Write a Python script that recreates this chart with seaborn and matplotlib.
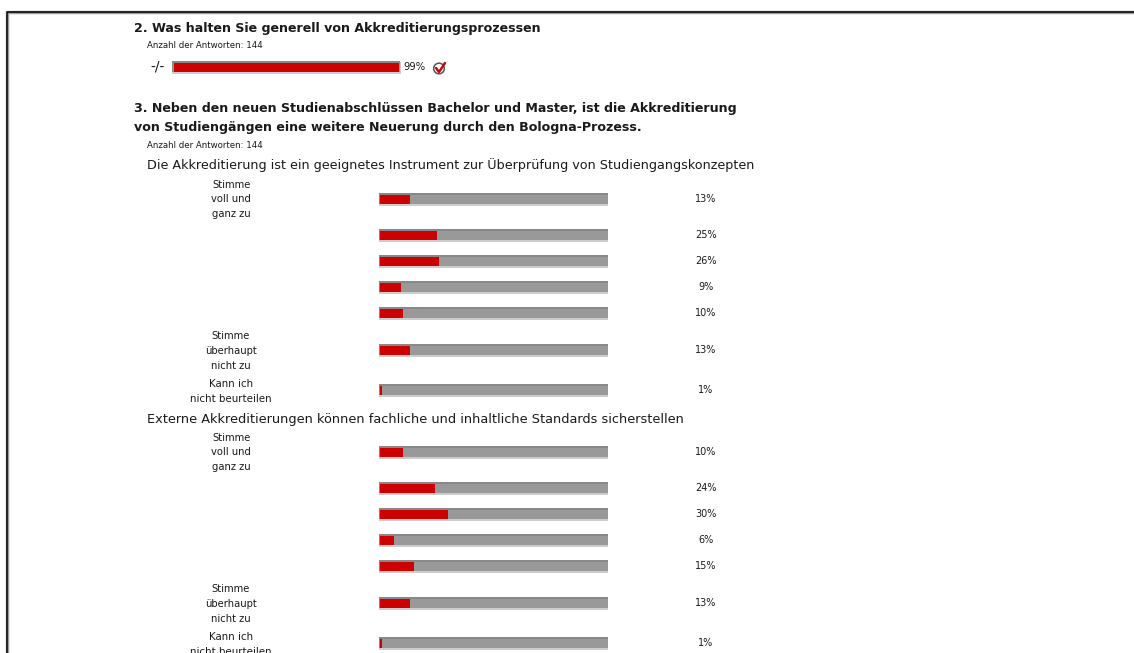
import matplotlib
matplotlib.use("Agg")
import matplotlib.pyplot as plt
import pandas as pd
import seaborn as sns
from matplotlib.patches import Circle

q2_title = "2. Was halten Sie generell von Akkreditierungsprozessen"
q3_title = ["3. Neben den neuen Studienabschlüssen Bachelor und Master, ist die Akkreditierung",
            "von Studiengängen eine weitere Neuerung durch den Bologna-Prozess."]
answers = "Anzahl der Antworten: 144"
sub1 = "Die Akkreditierung ist ein geeignetes Instrument zur Überprüfung von Studiengangskonzepten"
sub2 = "Externe Akkreditierungen können fachliche und inhaltliche Standards sicherstellen"

q2_values = [99]
block1_values = [13, 25, 26, 9, 10, 13, 1]
block2_values = [10, 24, 30, 6, 15, 13, 1]

# row centres in pixels of the page
q2_rows = [67]
block1_rows = [199, 235, 261, 287, 313, 350, 390]
block2_rows = [452, 488, 514, 540, 566, 603, 643]

W, H = 1134, 653
RED = "#cc0000"
GREY = "#999999"
TXT = "#1a1a1a"

sns.set_theme(style="white")
plt.rcParams['font.family'] = ['DejaVu Sans']

fig = plt.figure(figsize=(W / 100, H / 100), dpi=100)


def bars(left, right, rows, values, color, height, shift=0):
    ax = fig.add_axes([left / W, 0, (right - left) / W, 1])
    df = pd.DataFrame({"row": rows, "value": values})
    sns.barplot(data=df, x="value", y="row", orient="h", native_scale=True, color=color,
                saturation=1, ax=ax)
    for p in ax.patches:
        c = p.get_y() + p.get_height() / 2 + shift
        p.set_y(c - height / 2)
        p.set_height(height)
        p.set_linewidth(0)
    ax.set_xlim(0, 100)
    ax.set_ylim(H, 0)
    ax.axis("off")
    ax.patch.set_alpha(0)


def bar_group(left, right, rows, values):
    full = [100] * len(rows)
    bars(left - 1.5, right, rows, full, "#cccccc", 12, 0.5)
    bars(left - 1.5, right - 0.5, rows, full, "#888888", 11, -0.5)
    bars(left - 0.5, right - 0.5, rows, full, GREY, 9, 0.5)
    bars(left, right, rows, values, RED, 9, 0.5)


bar_group(173.5, 401, q2_rows, q2_values)
bar_group(380, 608, block1_rows + block2_rows, block1_values + block2_values)

# page overlay for frame and text
page = fig.add_axes([0, 0, 1, 1])
page.set_xlim(0, W)
page.set_ylim(H, 0)
page.axis("off")
page.patch.set_alpha(0)

page.plot([7, 7, W], [H, 11.5, 11.5], color="#999999", lw=2.4)
page.plot([7, 7, W], [H, 11.5, 11.5], color="#111111", lw=1.2)

page.text(134, 28.5, q2_title, fontsize=9.1, fontweight="bold", va="center", color=TXT)
page.text(147, 46, answers, fontsize=6.2, va="center", color=TXT)
page.text(150, 67, "-/-", fontsize=10, va="center", color=TXT)
page.text(403, 67.5, "99%", fontsize=7.2, va="center", color=TXT)
page.add_patch(Circle((439, 68.5), 5.3, fc="white", ec="#555555", lw=1.1))
page.plot([436, 439, 445], [68, 72, 63], color=RED, lw=1.7)

page.text(134, 108.5, q3_title[0], fontsize=9.1, fontweight="bold", va="center", color=TXT)
page.text(134, 127.5, q3_title[1], fontsize=9.1, fontweight="bold", va="center", color=TXT)
page.text(147, 146, answers, fontsize=6.2, va="center", color=TXT)
page.text(147, 165, sub1, fontsize=9.2, va="center", color=TXT)
page.text(147, 419, sub2, fontsize=9.25, va="center", color=TXT)

labels_top = ["Stimme", "voll und", "ganz zu"]
labels_low = ["Stimme", "überhaupt", "nicht zu"]
labels_na = ["Kann ich", "nicht beurteilen"]


def row_labels(rows):
    for txt, y in zip(labels_top, [rows[0] - 14, rows[0], rows[0] + 15]):
        page.text(251, y, txt, fontsize=7.2, ha="right", va="center", color=TXT)
    for txt, y in zip(labels_low, [rows[5] - 14, rows[5] + 1, rows[5] + 16]):
        page.text(231, y, txt, fontsize=7.2, ha="center", va="center", color=TXT)
    for txt, y in zip(labels_na, [rows[6] - 6, rows[6] + 9]):
        page.text(231, y, txt, fontsize=7.4, ha="center", va="center", color=TXT)


row_labels(block1_rows)
row_labels(block2_rows)

for rows, vals in [(block1_rows, block1_values), (block2_rows, block2_values)]:
    for y, v in zip(rows, vals):
        page.text(706, y, f"{v}%", fontsize=7, ha="center", va="center", color=TXT)

fig.savefig("out.png", dpi=100, facecolor="white")
